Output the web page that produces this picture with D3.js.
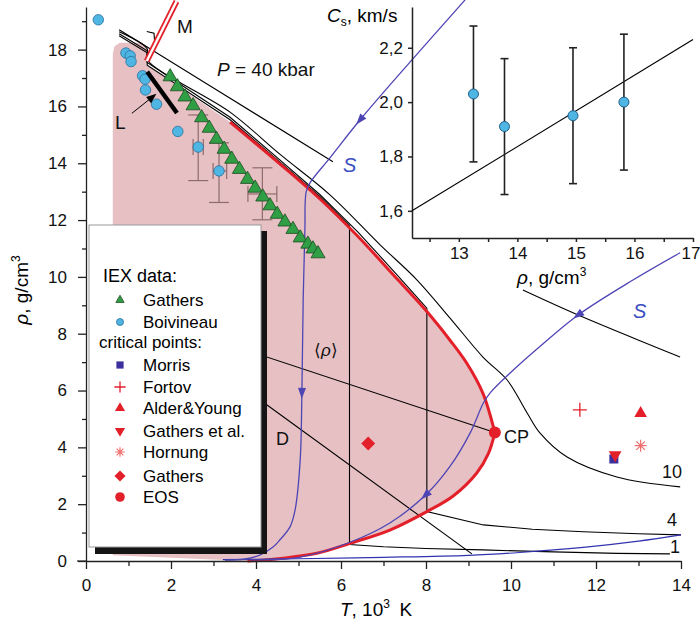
<!DOCTYPE html>
<html>
<head>
<meta charset="UTF-8">
<script src="https://cdn.jsdelivr.net/npm/d3@7"></script>
<style>
  body { margin: 0; background: #fff; }
  svg { font-family: "Liberation Sans", Arial, sans-serif; }
</style>
</head>
<body>
<svg id="chart" width="700" height="639"></svg>
<script>
// ---- tick values ----
const tMajor = [0, 2, 4, 6, 8, 10, 12, 14];
const tMinor = [1, 3, 5, 7, 9, 11, 13];
const rhoMajor = [0, 2, 4, 6, 8, 10, 12, 14, 16, 18];
const rhoMinor = [1, 3, 5, 7, 9, 11, 13, 15, 17, 19];

// ---- binodal (T in 10^3 K, rho in g/cm3) ----
const binUp = [[3.39,15.45],[4.56,13.98],[5.5,12.75],[6.4,11.42],[7.35,9.88],[8.02,8.78],[8.56,7.78],[8.96,6.96],[9.34,5.9],[9.62,4.52]];
const binLow = [[9.62,4.52],[9.47,3.79],[9.19,3.09],[8.64,2.29],[8.02,1.74],[7.15,1.09],[6.21,0.62],[5.43,0.27],[4.64,0.1],[4.17,0.03],[3.8,0.0]];
const pinkEdge = [[0.63,0.2],[0.63,17.85],[0.67,18.12],[0.8,18.24],[1.32,18.24],[1.44,18.0],[1.44,17.45]];

// ---- isobars ----
const p40a = [[0.78,18.7],[1.43,18.1],[3.0,16.65],[5.81,14.05]];
const p40b = [[10.28,9.54],[11.58,8.66],[13.98,7.18]];
const p10 = [[0.78,18.63],[1.44,18.03],[1.44,17.65],[3.39,15.8],[4.56,14.32],[5.74,12.89],[6.92,11.13],[7.79,9.89],[8.56,8.56],[9.34,7.18],[9.91,6.37],[10.38,5.21],[10.68,4.51],[11.32,3.66],[12.49,2.96],[13.98,2.61]];
const p4 = [[0.78,18.56],[1.44,17.96],[1.44,17.55],[3.39,15.62],[4.56,14.12],[5.5,12.9],[6.4,11.58],[7.35,10.02],[8.02,8.9],[8.02,1.74],[9.35,1.27],[10.5,1.12],[11.7,1.03],[13,0.96],[14,0.92]];
const p1 = [[0.78,18.49],[1.44,17.89],[1.44,17.45],[3.39,15.53],[4.56,14.05],[5.5,12.83],[6.2,11.8],[6.2,0.58],[7,0.5],[8,0.44],[9.34,0.39],[11,0.32],[12.5,0.27],[13.74,0.25]];
const isobarLabels = ["10", "4", "1"];

// ---- melting line, L line, rectilinear diameters ----
const melt = [[1.43,17.6],[2.13,19.7]];
const meltMark = [[1.43,18.64],[1.6,18.58],[1.62,18.17]];
const lLine = [[1.44,17.22],[2.14,15.77]];
const lArrow = [[1.08,15.76],[1.62,16.4]];
const diamA = [[2.0,8.30],[9.62,4.52]];
const diamB = [[2.0,7.95],[9.08,0.25]];

// ---- isentropes S ----
const s1 = [[8.92,19.75],[7.67,17.64],[6.45,15.53],[5.74,14.19],[5.27,13.31],[5.18,12.99],[5.15,11.65],[5.11,9.19],[5.08,5.92],[5.04,3.56],[4.92,1.8],[4.8,1.2],[4.56,0.74],[4.4,0.49],[4.09,0.21],[3.74,0.07],[3.27,0.03]];
const s2 = [[3.86,0.04],[5.04,0.14],[6.21,0.66],[7.15,1.34],[7.99,2.32],[8.56,3.32],[9.04,4.51],[9.35,5.56],[9.51,5.92],[9.98,6.62],[10.68,7.55],[11.58,8.66],[12.87,9.89],[13.98,10.85]];
const s3 = [[3.22,0.05],[5,0.08],[7,0.13],[9,0.2],[10.2,0.3],[11.7,0.48],[13,0.7],[14,0.92]];
const s1Arrows = [[6.45,15.53],[5.08,5.92]];
const s2Arrows = [[7.99,2.32],[11.58,8.66]];

// ---- IEX data ----
const gathersT = [1.98,2.15,2.33,2.52,2.72,2.90,3.07,3.25,3.43,3.61,3.80,3.98,4.16,4.33,4.50,4.68,4.87,5.04,5.22,5.34,5.46];
const gathersRho = [17.08,16.73,16.37,16.06,15.64,15.27,14.88,14.53,14.18,13.82,13.47,13.16,12.85,12.54,12.24,11.97,11.71,11.41,11.19,11.02,10.85];
const boivT = [0.29,0.94,1.04,1.06,1.33,1.39,1.40,1.66,2.16,2.64,3.13];
const boivRho = [19.05,17.88,17.78,17.58,17.08,16.96,16.58,16.08,15.12,14.57,13.73];
const errT = [2.64,3.13,4.15];
const errRho = [14.57,13.73,12.92];
const errTLo = [2.52,2.99,3.81];
const errTHi = [2.76,3.31,4.49];
const errRhoLo = [13.39,12.62,12.01];
const errRhoHi = [15.70,14.72,13.84];

// ---- critical points ----
const critNames = ["Morris","Fortov","Alder&Young","Gathers et al.","Hornung","Gathers","EOS"];
const critSym = ["square","plus","triUp","triDown","asterisk","diamond","circle"];
const critT = [12.42,11.62,13.05,12.45,13.05,6.64,9.62];
const critRho = [3.59,5.32,5.2,3.73,4.06,4.14,4.52];

// ---- inset: sound velocity vs density ----
const insRho = [13.25,13.78,14.95,15.82];
const insCs = [2.03,1.91,1.95,2.00];
const insCsLo = [1.78,1.66,1.70,1.75];
const insCsHi = [2.28,2.16,2.20,2.25];
const insFit = [[12.2,1.6],[17,2.23]];
const insRhoTicks = [13,14,15,16,17];
const insRhoMinor = [12.5,13.5,14.5,15.5,16.5];
const insCsTicks = [1.6,1.8,2.0,2.2];

const RED = "#e3202a", BLUE = "#4e45b5", PINK = "#e7c0c4", GREEN = "#2f9e44", CYAN = "#4fb6e3";

const svg = d3.select("#chart");
const x = d3.scaleLinear().domain([0, 14]).range([86, 681]);
const y = d3.scaleLinear().domain([0, 19.5]).range([561, 7]);
const xi = d3.scaleLinear().domain([12.2, 17]).range([412, 693]);
const yi = d3.scaleLinear().domain([1.5, 2.35]).range([238, 7]);

const lin = d3.line().x(d => x(d[0])).y(d => y(d[1]));
const smooth = d3.line().x(d => x(d[0])).y(d => y(d[1])).curve(d3.curveCatmullRom.alpha(0.5));

function path(g, d, gen, color, w) {
  return g.append("path").attr("d", gen(d)).attr("fill", "none")
    .attr("stroke", color).attr("stroke-width", w);
}

function marker(g, type, cx, cy, s) {
  const t = `translate(${cx},${cy})`;
  if (type === "square") {
    g.append("rect").attr("x", cx - 4.5 * s).attr("y", cy - 4.5 * s).attr("width", 9 * s).attr("height", 9 * s)
      .attr("fill", "#3b2f9e");
  } else if (type === "plus") {
    g.append("path").attr("transform", t).attr("d", `M${-7*s},0H${7*s}M0,${-7*s}V${7*s}`)
      .attr("stroke", RED).attr("stroke-width", 1.3).attr("fill", "none");
  } else if (type === "triUp") {
    g.append("path").attr("transform", t).attr("d", d3.symbol(d3.symbolTriangle, 70 * s * s)())
      .attr("fill", RED);
  } else if (type === "triDown") {
    g.append("path").attr("transform", t + " rotate(180)").attr("d", d3.symbol(d3.symbolTriangle, 70 * s * s)())
      .attr("fill", RED);
  } else if (type === "asterisk") {
    const r = 6 * s;
    let d = "";
    for (let k = 0; k < 4; k++) {
      const a = k * Math.PI / 4;
      d += `M${-r*Math.cos(a)},${-r*Math.sin(a)}L${r*Math.cos(a)},${r*Math.sin(a)}`;
    }
    g.append("path").attr("transform", t).attr("d", d).attr("stroke", "#ef6f6f")
      .attr("stroke-width", 1.2).attr("fill", "none");
  } else if (type === "diamond") {
    g.append("path").attr("transform", t).attr("d", `M0,${-7*s}L${7*s},0L0,${7*s}L${-7*s},0Z`)
      .attr("fill", RED);
  } else if (type === "circle") {
    g.append("circle").attr("cx", cx).attr("cy", cy).attr("r", 6 * s).attr("fill", RED);
  } else if (type === "triGreen") {
    g.append("path").attr("transform", t).attr("d", d3.symbol(d3.symbolTriangle, 60 * s * s)())
      .attr("fill", GREEN).attr("stroke", "#1d4d22").attr("stroke-width", 0.8);
  } else if (type === "circleBlue") {
    g.append("circle").attr("cx", cx).attr("cy", cy).attr("r", 5 * s)
      .attr("fill", CYAN).attr("stroke", "#2a6f9a").attr("stroke-width", 0.8);
  }
}

function arrowOn(g, pts, p, reverse) {
  const i = pts.findIndex(q => q[0] === p[0] && q[1] === p[1]);
  const a = pts[Math.max(i - 1, 0)], b = pts[Math.min(i + 1, pts.length - 1)];
  let ang = Math.atan2(y(b[1]) - y(a[1]), x(b[0]) - x(a[0])) * 180 / Math.PI;
  if (reverse) ang += 180;
  g.append("path").attr("transform", `translate(${x(p[0])},${y(p[1])}) rotate(${ang})`)
    .attr("d", "M6,0L-5,-4L-5,4Z").attr("fill", BLUE);
}

const plot = svg.append("g");

// two-phase region
plot.append("path").attr("d", lin(pinkEdge.concat(binUp, binLow.slice(1))) + "Z").attr("fill", PINK);

// error bars of IEX data
const eb = plot.append("g").attr("stroke", "#8d6b6b").attr("stroke-width", 1.2);
errT.forEach((t, i) => {
  const cx = x(t), cy = y(errRho[i]);
  eb.append("line").attr("x1", cx).attr("x2", cx).attr("y1", y(errRhoLo[i])).attr("y2", y(errRhoHi[i]));
  eb.append("line").attr("x1", cx - 10).attr("x2", cx + 10).attr("y1", y(errRhoLo[i])).attr("y2", y(errRhoLo[i]));
  eb.append("line").attr("x1", cx - 10).attr("x2", cx + 10).attr("y1", y(errRhoHi[i])).attr("y2", y(errRhoHi[i]));
  eb.append("line").attr("x1", x(errTLo[i])).attr("x2", x(errTHi[i])).attr("y1", cy).attr("y2", cy);
  eb.append("line").attr("x1", x(errTLo[i])).attr("x2", x(errTLo[i])).attr("y1", cy - 8).attr("y2", cy + 8);
  eb.append("line").attr("x1", x(errTHi[i])).attr("x2", x(errTHi[i])).attr("y1", cy - 8).attr("y2", cy + 8);
});

// isobars
path(plot, p40a, lin, "#000", 1.1);
path(plot, p40b, smooth, "#000", 1.1);
path(plot, p10, smooth, "#000", 1.1);
path(plot, p4, lin, "#000", 1.1);
path(plot, p1, lin, "#000", 1.1);
path(plot, meltMark, lin, "#000", 1.1);
path(plot, diamA, lin, "#000", 1.1);
path(plot, diamB, lin, "#000", 1.1);

// binodal
path(plot, binUp, smooth, RED, 3).attr("stroke-linejoin", "round");
path(plot, binLow, smooth, RED, 3).attr("stroke-linejoin", "round");

// melting line (double red line)
path(plot, melt, lin, RED, 6);
path(plot, melt, lin, "#fff", 2.4);

// isentropes
path(plot, s3, smooth, "#3232b0", 1.2);
path(plot, s1, smooth, BLUE, 1.3);
path(plot, s2, smooth, BLUE, 1.3);
s1Arrows.forEach(p => arrowOn(plot, s1, p, false));
s2Arrows.forEach(p => arrowOn(plot, s2, p, true));

// IEX data points
gathersT.forEach((t, i) => marker(plot, "triGreen", x(t), y(gathersRho[i]) + 1, 1.2));
boivT.forEach((t, i) => marker(plot, "circleBlue", x(t), y(boivRho[i]), 1.05));

// L line and arrow
path(plot, lLine, lin, "#000", 4.5);
path(plot, lArrow, lin, "#000", 1);
{
  const a = lArrow[0], b = lArrow[1];
  const ang = Math.atan2(y(b[1]) - y(a[1]), x(b[0]) - x(a[0])) * 180 / Math.PI;
  plot.append("path").attr("transform", `translate(${x(b[0])},${y(b[1])}) rotate(${ang})`)
    .attr("d", "M2,0L-8,-4L-8,4Z").attr("fill", "#000");
}

// critical points
critT.forEach((t, i) => marker(plot, critSym[i], x(t), y(critRho[i]), 1));

// ---- axes ----
const axX = svg.append("g").attr("transform", "translate(0,561)");
axX.call(d3.axisBottom(x).tickValues(tMajor).tickSize(8).tickPadding(10).tickSizeOuter(0));
svg.append("g").attr("transform", "translate(0,561)")
  .call(d3.axisBottom(x).tickValues(tMinor).tickSize(5).tickFormat("").tickSizeOuter(0))
  .select(".domain").remove();
svg.append("line").attr("x1", 77).attr("x2", 86).attr("y1", 561).attr("y2", 561).attr("stroke", "#000");
const axY = svg.append("g").attr("transform", "translate(86,0)");
axY.call(d3.axisLeft(y).tickValues(rhoMajor).tickSize(8).tickPadding(11).tickSizeOuter(0));
svg.append("g").attr("transform", "translate(86,0)")
  .call(d3.axisLeft(y).tickValues(rhoMinor).tickSize(4).tickFormat("").tickSizeOuter(0))
  .select(".domain").remove();
svg.selectAll(".tick text").attr("font-size", 17).attr("font-family", "Liberation Sans, Arial, sans-serif").attr("fill", "#111");
svg.selectAll(".domain, .tick line").attr("stroke", "#222").attr("stroke-width", 1.3);

// axis titles
const xt = svg.append("text").attr("x", 376).attr("y", 616).attr("text-anchor", "middle").attr("font-size", 19);
xt.append("tspan").attr("font-style", "italic").text("T");
xt.append("tspan").text(", 10");
xt.append("tspan").attr("font-size", 12).attr("dy", -8).text("3");
xt.append("tspan").attr("dy", 8).text("\u2002K");

const yt = svg.append("text").attr("transform", "translate(28,290) rotate(-90)").attr("text-anchor", "middle").attr("font-size", 19);
yt.append("tspan").attr("font-style", "italic").text("\u03c1");
yt.append("tspan").text(", g/cm");
yt.append("tspan").attr("font-size", 12).attr("dy", -8).text("3");

// ---- annotations ----
const ann = svg.append("g").attr("font-size", 18).attr("fill", "#111");
const pt = ann.append("text").attr("x", 217).attr("y", 76).attr("font-size", 19);
pt.append("tspan").attr("font-style", "italic").text("P");
pt.append("tspan").text(" = 40 kbar");
ann.append("text").attr("x", 177).attr("y", 33).attr("font-size", 19).text("M");
ann.append("text").attr("x", 115).attr("y", 129).attr("font-size", 19).text("L");
ann.append("text").attr("x", 343).attr("y", 172).attr("font-size", 20).attr("font-style", "italic").attr("fill", "#3a4fc0").text("S");
ann.append("text").attr("x", 633).attr("y", 318).attr("font-size", 20).attr("font-style", "italic").attr("fill", "#3a4fc0").text("S");
ann.append("text").attr("x", 504).attr("y", 443).text("CP");
ann.append("text").attr("x", 276).attr("y", 445).text("D");
const rl = ann.append("text").attr("x", 314).attr("y", 356).attr("font-size", 17);
rl.append("tspan").text("\u27e8");
rl.append("tspan").attr("font-style", "italic").text("\u03c1");
rl.append("tspan").text("\u27e9");
const isoLabelPos = [[662,478],[667,526],[670,553]];
isobarLabels.forEach((s, i) => ann.append("text").attr("x", isoLabelPos[i][0]).attr("y", isoLabelPos[i][1]).text(s));

// ---- legend ----
const lg = svg.append("g");
lg.append("rect").attr("x", 95).attr("y", 231).attr("width", 172).attr("height", 323).attr("fill", "#151515");
lg.append("rect").attr("x", 89).attr("y", 225).attr("width", 172).attr("height", 322).attr("fill", "#fff")
  .attr("stroke", "#999").attr("stroke-width", 1);
lg.append("text").attr("x", 103).attr("y", 282).attr("font-size", 18).text("IEX data:");
lg.append("text").attr("x", 99).attr("y", 348).attr("font-size", 17).text("critical points:");
const legIEX = [["triGreen", "Gathers", 300], ["circleBlue", "Boivineau", 322]];
legIEX.forEach(d => {
  marker(lg, d[0], 120, d[2], 0.7);
  lg.append("text").attr("x", 143).attr("y", d[2] + 6).attr("font-size", 17).text(d[1]);
});
const legRowY = [365, 387, 408, 431, 452, 476, 497];
critNames.forEach((n, i) => {
  marker(lg, critSym[i], 120, legRowY[i], 0.8);
  lg.append("text").attr("x", 143).attr("y", legRowY[i] + 6).attr("font-size", 17).text(n);
});

// ---- inset ----
const ins = svg.append("g");
ins.append("g").attr("transform", "translate(0,238)")
  .call(d3.axisBottom(xi).tickValues(insRhoTicks).tickSize(4).tickPadding(5).tickSizeOuter(0)
    .tickFormat(d3.format("d")));
ins.append("g").attr("transform", "translate(0,238)")
  .call(d3.axisBottom(xi).tickValues(insRhoMinor).tickSize(4).tickFormat("").tickSizeOuter(0))
  .select(".domain").remove();
ins.append("g").attr("transform", "translate(412,0)")
  .call(d3.axisLeft(yi).tickValues(insCsTicks).tickSize(4).tickPadding(5).tickSizeOuter(0)
    .tickFormat(d => d.toFixed(1).replace(".", ",")));
ins.selectAll(".tick text").attr("font-size", 17).attr("font-family", "Liberation Sans, Arial, sans-serif").attr("fill", "#111");
ins.selectAll(".tick text").filter(d => d === 17).attr("text-anchor", "end").attr("x", 7);
ins.selectAll(".domain, .tick line").attr("stroke", "#222").attr("stroke-width", 1.5);

ins.append("path").attr("d", d3.line().x(d => xi(d[0])).y(d => yi(d[1]))(insFit))
  .attr("stroke", "#000").attr("stroke-width", 1.2).attr("fill", "none");
const ie = ins.append("g").attr("stroke", "#222").attr("stroke-width", 1.6);
insRho.forEach((r, i) => {
  const cx = xi(r);
  ie.append("line").attr("x1", cx).attr("x2", cx).attr("y1", yi(insCsLo[i])).attr("y2", yi(insCsHi[i]));
  ie.append("line").attr("x1", cx - 4).attr("x2", cx + 4).attr("y1", yi(insCsLo[i])).attr("y2", yi(insCsLo[i]));
  ie.append("line").attr("x1", cx - 4).attr("x2", cx + 4).attr("y1", yi(insCsHi[i])).attr("y2", yi(insCsHi[i]));
});
insRho.forEach((r, i) => {
  ins.append("circle").attr("cx", xi(r)).attr("cy", yi(insCs[i])).attr("r", 5)
    .attr("fill", CYAN).attr("stroke", "#1f5f8a").attr("stroke-width", 1);
});
const ct = ins.append("text").attr("x", 327).attr("y", 22).attr("font-size", 19);
ct.append("tspan").attr("font-style", "italic").text("C");
ct.append("tspan").attr("font-size", 12).attr("dy", 4).text("s");
ct.append("tspan").attr("dy", -4).text(", km/s");
const rt = ins.append("text").attr("x", 517).attr("y", 284).attr("font-size", 19);
rt.append("tspan").attr("font-style", "italic").text("\u03c1");
rt.append("tspan").text(", g/cm");
rt.append("tspan").attr("font-size", 12).attr("dy", -8).text("3");
</script>
</body>
</html>
